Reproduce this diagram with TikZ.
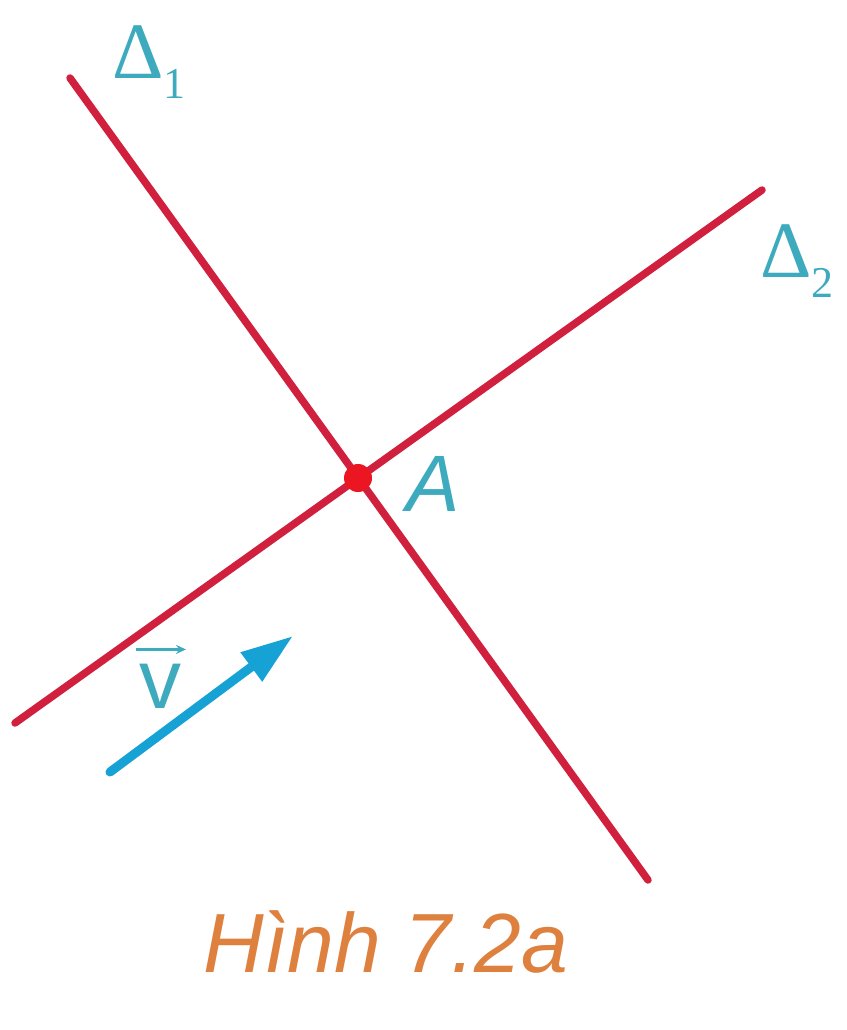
\documentclass[tikz,border=0pt]{standalone}
\usepackage{fontspec}
\setmainfont{Liberation Sans}
\newfontfamily\serifd{Liberation Serif}
\usetikzlibrary{arrows.meta}
\definecolor{linered}{RGB}{208,32,62}
\definecolor{dotred}{RGB}{236,22,34}
\definecolor{labcyan}{RGB}{62,170,190}
\definecolor{vecblue}{RGB}{22,162,212}
\definecolor{capor}{RGB}{222,128,62}
\tikzset{
  rline/.style={draw=linered, line width=7.5pt, line cap=round},
  lab/.style={text=labcyan, inner sep=0pt},
  vecarrow/.style={draw=vecblue, line width=9pt, line cap=round, -{Triangle[length=52pt,width=34pt]}},
}
\newcommand{\dlab}[1]{{\serifd\fontsize{80}{80}\selectfont Δ}\raisebox{-20pt}{\serifd\fontsize{44}{44}\selectfont #1}}
\begin{document}
\begin{tikzpicture}[x=1pt,y=-1pt]
\useasboundingbox (0,0) rectangle (846,1030);
\coordinate (d1a) at (70,78);
\coordinate (d1b) at (648,880);
\coordinate (d2a) at (15,723);
\coordinate (d2b) at (762,190);
\draw[rline] (d1a) -- (d1b);
\draw[rline] (d2a) -- (d2b);
\node[circle, fill=dotred, minimum size=28pt, inner sep=0pt] (A) at (358,478) {};
\node[lab, font=\fontsize{80}{80}\selectfont\itshape] (Alab) at (433,484) {A};
\node[lab, anchor=south west] (D1) at (112,99) {\dlab{1}};
\node[lab, anchor=south west] (D2) at (760,298) {\dlab{2}};
\coordinate (vs) at (110,772);
\coordinate (ve) at (293,636);
\draw[vecarrow] (vs) -- (ve);
\node[lab, font=\fontsize{84}{84}\selectfont, anchor=base] (vlab) at (160,708) {v};
\draw[draw=labcyan, line width=3pt, -{Stealth[length=10pt,width=9pt]}] ([xshift=-24pt,yshift=14pt]vlab.north) -- ([xshift=26pt,yshift=14pt]vlab.north);
\node[text=capor, font=\fontsize{84}{84}\selectfont\itshape, anchor=base, inner sep=0pt] (cap) at (386,972) {Hình 7.2a};
\end{tikzpicture}
\end{document}
